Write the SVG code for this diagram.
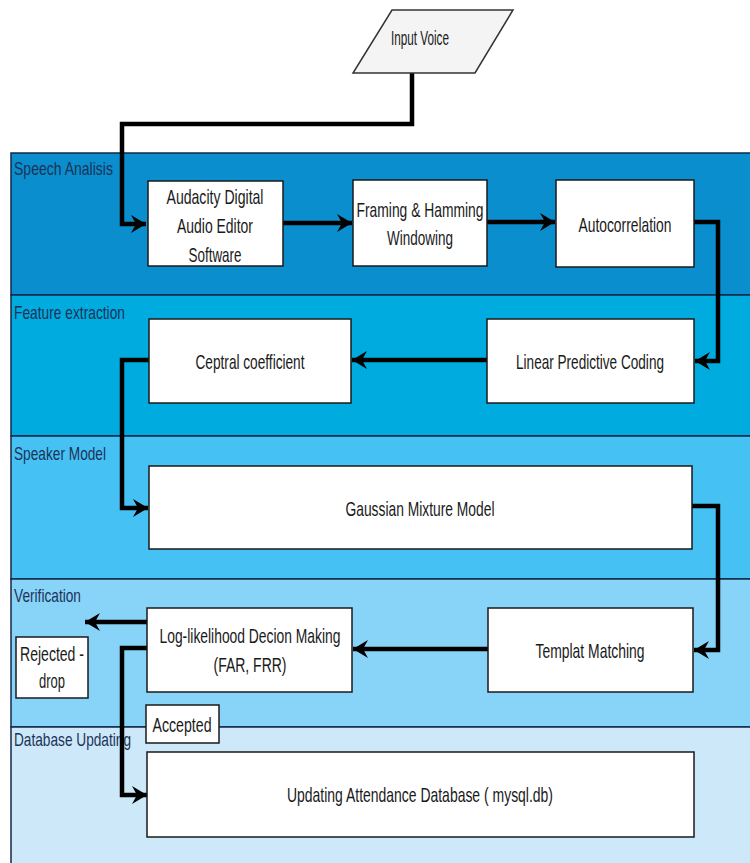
<svg xmlns="http://www.w3.org/2000/svg" width="750" height="863" viewBox="0 0 750 863">
<defs>
<style>
.lane{stroke:#13284a;stroke-width:1.5}
.lt{font-family:"Liberation Sans",Arial,sans-serif;font-size:19px;fill:#1c3358}
.box{fill:#fff;stroke:#1a1a1a;stroke-width:1.5}
.t{font-family:"Liberation Sans",Arial,sans-serif;font-size:21px;fill:#1a1a1a;text-anchor:middle}
.c{fill:none;stroke:#000;stroke-width:4.5;stroke-linejoin:miter}
</style>
<marker id="ah" markerUnits="userSpaceOnUse" markerWidth="20" markerHeight="20" refX="15" refY="10" orient="auto">
<path d="M0,1 L15,10 L0,19 L5,10 Z" fill="#000"/>
</marker>
</defs>
<rect width="750" height="863" fill="#fff"/>
<g id="lanes">
<rect class="lane" x="11" y="153" width="745" height="142" fill="#0a8ecd"/>
<rect class="lane" x="11" y="295" width="745" height="141" fill="#00acdf"/>
<rect class="lane" x="11" y="436" width="745" height="143" fill="#46c1f4"/>
<rect class="lane" x="11" y="579" width="745" height="148" fill="#88d3f8"/>
<rect class="lane" x="11" y="727" width="745" height="140" fill="#cde9f9"/>
<text class="lt" x="14" y="175" textLength="99" lengthAdjust="spacingAndGlyphs">Speech Analisis</text>
<text class="lt" x="14" y="319" textLength="111" lengthAdjust="spacingAndGlyphs">Feature extraction</text>
<text class="lt" x="14" y="460" textLength="92" lengthAdjust="spacingAndGlyphs">Speaker Model</text>
<text class="lt" x="14" y="602" textLength="67" lengthAdjust="spacingAndGlyphs">Verification</text>
<text class="lt" x="14" y="746" textLength="117" lengthAdjust="spacingAndGlyphs">Database Updating</text>
</g>
<g id="connectors">
<polyline class="c" points="412,73 412,124 122,124 122,224 146,224" marker-end="url(#ah)"/>
<line class="c" x1="283" y1="223" x2="352" y2="223" marker-end="url(#ah)"/>
<line class="c" x1="487" y1="222" x2="555" y2="222" marker-end="url(#ah)"/>
<polyline class="c" points="694,222 718,222 718,361 695,361" marker-end="url(#ah)"/>
<line class="c" x1="487" y1="360" x2="352" y2="360" marker-end="url(#ah)"/>
<polyline class="c" points="149,360 122,360 122,508 148,508" marker-end="url(#ah)"/>
<polyline class="c" points="692,506 718,506 718,650 694,650" marker-end="url(#ah)"/>
<line class="c" x1="488" y1="649" x2="353" y2="649" marker-end="url(#ah)"/>
<line class="c" x1="147" y1="622" x2="85" y2="622" marker-end="url(#ah)"/>
<polyline class="c" points="147,648 122,648 122,795 147,795" marker-end="url(#ah)"/>
</g>
<g id="input-voice">
<polygon points="392,10 513,10 475,73 353,73" fill="#f4f4f4" stroke="#333" stroke-width="1.5"/>
<text class="t" x="420" y="45" font-size="18" textLength="58" lengthAdjust="spacingAndGlyphs">Input Voice</text>
</g>
<g id="audacity">
<rect class="box" x="148" y="181" width="135" height="85"/>
<text class="t" x="215" y="204" textLength="97" lengthAdjust="spacingAndGlyphs">Audacity Digital</text>
<text class="t" x="215" y="233" textLength="76" lengthAdjust="spacingAndGlyphs">Audio Editor</text>
<text class="t" x="215" y="262" textLength="53" lengthAdjust="spacingAndGlyphs">Software</text>
</g>
<g id="framing">
<rect class="box" x="353" y="180" width="134" height="86"/>
<text class="t" x="420" y="217" textLength="127" lengthAdjust="spacingAndGlyphs">Framing &amp; Hamming</text>
<text class="t" x="420" y="245" textLength="66" lengthAdjust="spacingAndGlyphs">Windowing</text>
</g>
<g id="autocorrelation">
<rect class="box" x="556" y="180" width="138" height="87"/>
<text class="t" x="625" y="232" textLength="93" lengthAdjust="spacingAndGlyphs">Autocorrelation</text>
</g>
<g id="lpc">
<rect class="box" x="487" y="319" width="207" height="84"/>
<text class="t" x="590" y="369" textLength="148" lengthAdjust="spacingAndGlyphs">Linear Predictive Coding</text>
</g>
<g id="ceptral">
<rect class="box" x="149" y="319" width="202" height="84"/>
<text class="t" x="250" y="369" textLength="109" lengthAdjust="spacingAndGlyphs">Ceptral coefficient</text>
</g>
<g id="gmm">
<rect class="box" x="149" y="466" width="543" height="83"/>
<text class="t" x="420" y="516" textLength="149" lengthAdjust="spacingAndGlyphs">Gaussian Mixture Model</text>
</g>
<g id="templat">
<rect class="box" x="488" y="608" width="205" height="84"/>
<text class="t" x="590" y="658" textLength="109" lengthAdjust="spacingAndGlyphs">Templat Matching</text>
</g>
<g id="loglikelihood">
<rect class="box" x="147" y="608" width="205" height="84"/>
<text class="t" x="250" y="643" textLength="181" lengthAdjust="spacingAndGlyphs">Log-likelihood Decion Making</text>
<text class="t" x="250" y="672" textLength="73" lengthAdjust="spacingAndGlyphs">(FAR, FRR)</text>
</g>
<g id="rejected">
<rect class="box" x="16" y="637" width="72" height="61"/>
<text class="t" x="52" y="661" textLength="64" lengthAdjust="spacingAndGlyphs">Rejected -</text>
<text class="t" x="52" y="688" textLength="26" lengthAdjust="spacingAndGlyphs">drop</text>
</g>
<g id="accepted">
<rect class="box" x="146" y="705" width="73" height="38"/>
<text class="t" x="182" y="732" textLength="59" lengthAdjust="spacingAndGlyphs">Accepted</text>
</g>
<g id="database">
<rect class="box" x="147" y="752" width="547" height="85"/>
<text class="t" x="420" y="802" textLength="266" lengthAdjust="spacingAndGlyphs">Updating Attendance Database ( mysql.db)</text>
</g>
</svg>
